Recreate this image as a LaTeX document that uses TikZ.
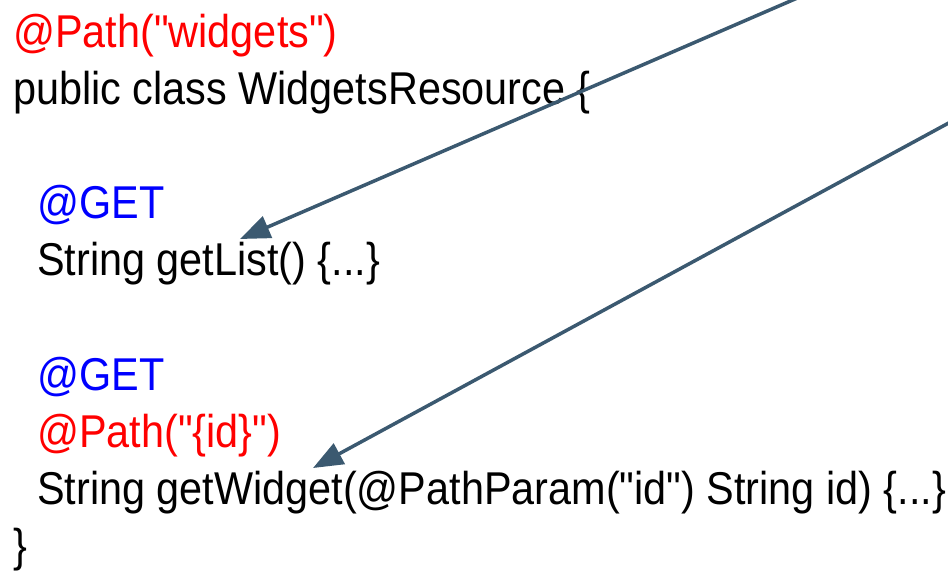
\documentclass[tikz,border=0pt]{standalone}
\usepackage{fontspec}
\usepackage{graphicx}
\setmainfont{Liberation Sans}[Ligatures=TeXOff]
\usetikzlibrary{arrows.meta}
\definecolor{annred}{RGB}{255,0,0}
\definecolor{annblue}{RGB}{0,0,255}
\definecolor{arrowslate}{RGB}{59,89,112}
% slightly condensed code text
\newcommand\codetext[1]{\scalebox{0.90}[1]{#1}}
\begin{document}
\begin{tikzpicture}[x=1pt,y=-1pt,
  code/.style={anchor=base west, inner sep=0pt, font=\fontsize{46}{55}\selectfont},
  link/.style={draw=arrowslate, line width=3.5pt, -{Triangle[length=30pt,width=23pt]}}]
\useasboundingbox (0,0) rectangle (948,574);

% the resource class
\node[code, text=annred]  (clspath)  at (13,47)    {\codetext{@Path("widgets")}};
\node[code]               (clsdecl)  at (13,104.2) {\codetext{public class WidgetsResource \{}};
\node[code, text=annblue] (get1)     at (37,218.6) {\codetext{@GET}};
\node[code]               (getlist)  at (37,275.8) {\codetext{String getList() \{...\}}};
\node[code, text=annblue] (get2)     at (37,390.2) {\codetext{@GET}};
\node[code, text=annred]  (idpath)   at (37,447.4) {\codetext{@Path("\{id\}")}};
\node[code]               (getwidget) at (37,504.6) {\codetext{String getWidget(@PathParam("id") String id) \{...\}}};
\node[code]               (clsend)   at (13,561.8) {\codetext{\}}};

% incoming request arrows
\coordinate (src1) at (839,-20);
\coordinate (tip1) at (240,239);
\coordinate (src2) at (970,111.4);
\coordinate (tip2) at (313,468);
\draw[link] (src1) -- (tip1);
\draw[link] (src2) -- (tip2);
\end{tikzpicture}
\end{document}
